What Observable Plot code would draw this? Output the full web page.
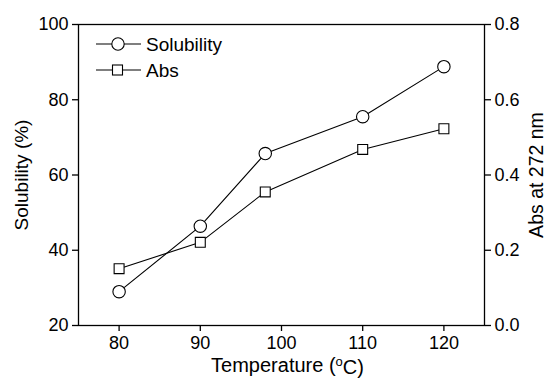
<!DOCTYPE html>
<html>
<head>
<meta charset="utf-8">
<script src="https://cdn.jsdelivr.net/npm/d3@7"></script>
<script src="https://cdn.jsdelivr.net/npm/@observablehq/plot@0.6"></script>
<style>
  html, body { margin: 0; padding: 0; background: #fff; }
  #wrap { position: relative; width: 547px; height: 379px; }
  #legend { position: absolute; left: 0; top: 0; pointer-events: none; }
</style>
</head>
<body>
<div id="wrap"></div>
<script>
const temperature = [80, 90, 98, 110, 120];
const solubility = [29.0, 46.4, 65.7, 75.5, 88.8];
const absorbance = [0.151, 0.221, 0.355, 0.468, 0.523];
const xTicks = [80, 90, 100, 110, 120];
const leftTicks = [20, 40, 60, 80, 100];
const rightTickLabels = ["0.0", "0.2", "0.4", "0.6", "0.8"];
const seriesNames = ["Solubility", "Abs"];
const xLabel = "Temperature (°C)";
const yLabel = "Solubility (%)";
const y2Label = "Abs at 272 nm";

// map absorbance (0..0.8) onto the left scale (20..100)
const absToLeft = v => 20 + v * 100;
const solData = temperature.map((t, i) => ({t, v: solubility[i]}));
const absData = temperature.map((t, i) => ({t, v: absToLeft(absorbance[i])}));

const font = "'Liberation Sans', Arial, sans-serif";
const fs = 18;

const chart = Plot.plot({
  width: 547,
  height: 379,
  marginLeft: 78,
  marginRight: 63,
  marginTop: 24,
  marginBottom: 54,
  style: {fontFamily: font, fontSize: "18px", color: "black", background: "white"},
  x: {domain: [75, 125]},
  y: {domain: [20, 100]},
  marks: [
    Plot.frame({stroke: "black", strokeWidth: 1.3}),
    Plot.axisX({ticks: xTicks, tickSize: 6, tickPadding: 5, tickFormat: d => String(d), fontSize: fs,
      label: xLabel, labelAnchor: "center", labelArrow: "none", labelOffset: 46,
      stroke: "black", strokeWidth: 1.3}),
    Plot.axisY({anchor: "left", ticks: leftTicks, tickSize: 6, tickPadding: 4, tickFormat: d => String(d), fontSize: fs,
      label: yLabel, labelAnchor: "center", labelArrow: "none", labelOffset: 64,
      stroke: "black", strokeWidth: 1.3}),
    Plot.axisY({anchor: "right", ticks: leftTicks, tickSize: 6, tickPadding: 4, fontSize: fs,
      tickFormat: d => rightTickLabels[leftTicks.indexOf(d)],
      label: y2Label, labelAnchor: "center", labelArrow: "none", labelOffset: 58,
      stroke: "black", strokeWidth: 1.3}),
    Plot.line(solData, {x: "t", y: "v", stroke: "black", strokeWidth: 1.1}),
    Plot.line(absData, {x: "t", y: "v", stroke: "black", strokeWidth: 1.1}),
    Plot.dot(solData, {x: "t", y: "v", symbol: "circle", r: 6.2, fill: "white", stroke: "black", strokeWidth: 1.1}),
    Plot.dot(absData, {x: "t", y: "v", symbol: "square", r: 5.6, fill: "white", stroke: "black", strokeWidth: 1.1})
  ]
});

// axis label sizes, and superscript "o" in the x-axis label
d3.select(chart).selectAll("text").each(function() {
  const s = this.textContent;
  if (s === xLabel) {
    const sel = d3.select(this);
    sel.text(null).attr("font-size", "20px").attr("dx", 6);
    sel.append("tspan").text("Temperature (");
    sel.append("tspan").text("o").attr("dy", "-0.42em").attr("font-size", "13px");
    sel.append("tspan").text("C)").attr("dy", "0.42em");
  } else if (s === yLabel) {
    d3.select(this).attr("font-size", "19px");
  } else if (s === y2Label) {
    d3.select(this).attr("font-size", "19.5px");
  }
});

document.getElementById("wrap").appendChild(chart);

// legend overlay
const lg = d3.select("#wrap").append("svg").attr("id", "legend")
  .attr("width", 547).attr("height", 379)
  .style("font-family", font).style("font-size", "19px");
const rows = [{name: seriesNames[0], sym: "circle", y: 44}, {name: seriesNames[1], sym: "square", y: 70}];
rows.forEach(r => {
  lg.append("line").attr("x1", 96).attr("x2", 141).attr("y1", r.y).attr("y2", r.y)
    .attr("stroke", "black").attr("stroke-width", 1.1);
  if (r.sym === "circle") {
    lg.append("circle").attr("cx", 118).attr("cy", r.y).attr("r", 6.2)
      .attr("fill", "white").attr("stroke", "black").attr("stroke-width", 1.1);
  } else {
    lg.append("rect").attr("x", 112.5).attr("y", r.y - 5).attr("width", 10).attr("height", 10)
      .attr("fill", "white").attr("stroke", "black").attr("stroke-width", 1.1);
  }
  lg.append("text").attr("x", 146).attr("y", r.y).attr("dy", "0.35em").text(r.name);
});
</script>
</body>
</html>
